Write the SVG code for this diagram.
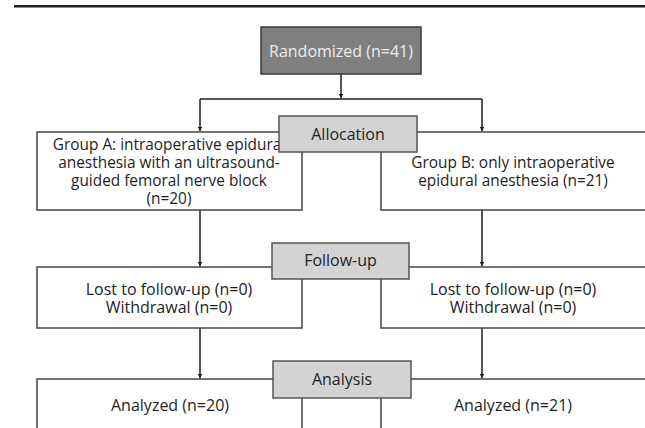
<svg xmlns="http://www.w3.org/2000/svg" width="645" height="428" viewBox="0 0 645 428">
<style>
.box{fill:#ffffff;stroke:#454545;stroke-width:1.5}
.lab{fill:#d3d3d3;stroke:#555555;stroke-width:1.5}
.t{font-family:"Open Sans","Noto Sans",sans-serif;font-size:16px;fill:#1e1e1e;text-anchor:middle}
.g{font-size:15.4px}
.w{fill:#ececec}
.c{stroke:#1e1e1e;stroke-width:1.5;fill:none}
</style>
<defs>
<marker id="ah" viewBox="0 0 8 8" refX="7.5" refY="4" markerWidth="4.5" markerHeight="4.5" orient="auto" markerUnits="userSpaceOnUse">
<path d="M0,0 L8,4 L0,8 z" fill="#1e1e1e"/>
</marker>
</defs>
<rect x="14" y="5" width="631" height="2.5" fill="#1e1e1e"/>
<g id="connectors">
<path class="c" d="M341,74 V98" marker-end="url(#ah)"/>
<path class="c" d="M200,99 H482"/>
<path class="c" d="M200,99 V131" marker-end="url(#ah)"/>
<path class="c" d="M482,99 V131" marker-end="url(#ah)"/>
<path class="c" d="M200,210 V266" marker-end="url(#ah)"/>
<path class="c" d="M482,210 V266" marker-end="url(#ah)"/>
<path class="c" d="M200,328 V378" marker-end="url(#ah)"/>
<path class="c" d="M482,328 V378" marker-end="url(#ah)"/>
</g>
<g id="randomized">
<rect x="261" y="27" width="160" height="47" fill="#7f7f7f" stroke="#3a3a3a" stroke-width="1.5"/>
<text class="t w" x="341" y="57">Randomized (n=41)</text>
</g>
<g id="groupA">
<rect class="box" x="37" y="132" width="265" height="78"/>
<text class="t g" x="169" y="150">Group A: intraoperative epidural</text>
<text class="t g" x="169" y="168">anesthesia with an ultrasound-</text>
<text class="t g" x="169" y="186">guided femoral nerve block</text>
<text class="t g" x="169" y="204">(n=20)</text>
</g>
<g id="groupB">
<rect class="box" x="381" y="132" width="280" height="78"/>
<text class="t g" x="513" y="168">Group B: only intraoperative</text>
<text class="t g" x="513" y="186">epidural anesthesia (n=21)</text>
</g>
<g id="allocation">
<rect class="lab" x="279" y="116" width="138" height="36"/>
<text class="t" x="348" y="140">Allocation</text>
</g>
<g id="followA">
<rect class="box" x="37" y="267" width="265" height="61"/>
<text class="t" x="169" y="295">Lost to follow-up (n=0)</text>
<text class="t" x="169" y="313">Withdrawal (n=0)</text>
</g>
<g id="followB">
<rect class="box" x="381" y="267" width="280" height="61"/>
<text class="t" x="513" y="295">Lost to follow-up (n=0)</text>
<text class="t" x="513" y="313">Withdrawal (n=0)</text>
</g>
<g id="followup">
<rect class="lab" x="272" y="243" width="137" height="36"/>
<text class="t" x="340.5" y="266">Follow-up</text>
</g>
<g id="analyzedA">
<rect class="box" x="37" y="379" width="265" height="70"/>
<text class="t" x="170" y="411">Analyzed (n=20)</text>
</g>
<g id="analyzedB">
<rect class="box" x="381" y="379" width="280" height="70"/>
<text class="t" x="513" y="411">Analyzed (n=21)</text>
</g>
<g id="analysis">
<rect class="lab" x="273" y="361" width="138" height="37"/>
<text class="t" x="342" y="385">Analysis</text>
</g>
</svg>
